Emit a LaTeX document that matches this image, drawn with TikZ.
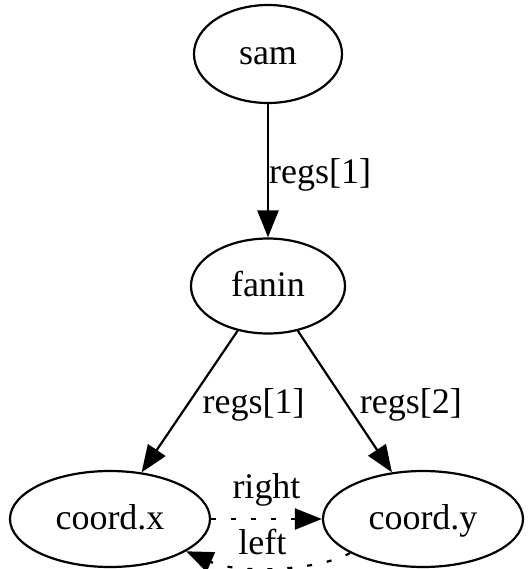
\documentclass[tikz,border=0pt]{standalone}
\usepackage{fontspec}
\setmainfont{Liberation Serif}
\usetikzlibrary{shapes.geometric,arrows.meta}
\begin{document}
\begin{tikzpicture}[x=0.5pt, y=-0.5pt, >={Triangle[length=13.5pt,width=10.5pt]},
  line width=1.1pt, font=\fontsize{18}{20}\selectfont,
  blob/.style={draw, ellipse, inner sep=0pt, text height=14.4pt, text depth=3.6pt},
  lbl/.style={inner sep=0pt},
  dotted edge/.style={dash pattern=on 2.5pt off 7.5pt}]
  \useasboundingbox (0,0) rectangle (529,569);
  \node[blob, minimum width=74pt, minimum height=49pt] (sam) at (268,54) {sam};
  \node[blob, minimum width=77pt, minimum height=47.5pt] (fanin) at (268,286) {fanin};
  \node[blob, minimum width=100pt, minimum height=48pt] (coordx) at (110,519) {coord.x};
  \node[blob, minimum width=100pt, minimum height=48pt] (coordy) at (423,519) {coord.y};
  \draw[->] (sam) -- node[lbl, anchor=west, yshift=-2pt] {regs[1]} (fanin);
  \draw[->] (fanin) -- node[lbl, anchor=west, xshift=6pt, yshift=-1.5pt] {regs[1]} (coordx);
  \draw[->] (fanin) -- node[lbl, anchor=west, xshift=7pt, yshift=-1.5pt] {regs[2]} (coordy);
  \draw[->, dotted edge] (coordx) -- node[lbl, anchor=base, yshift=10.5pt] {right} (coordy);
  \draw[->, dotted edge] (coordy.205) .. controls (320,570) and (241,575) ..
    node[lbl, anchor=base, xshift=-7.5pt, yshift=6.5pt] {left} (coordx.337.5);
\end{tikzpicture}
\end{document}
